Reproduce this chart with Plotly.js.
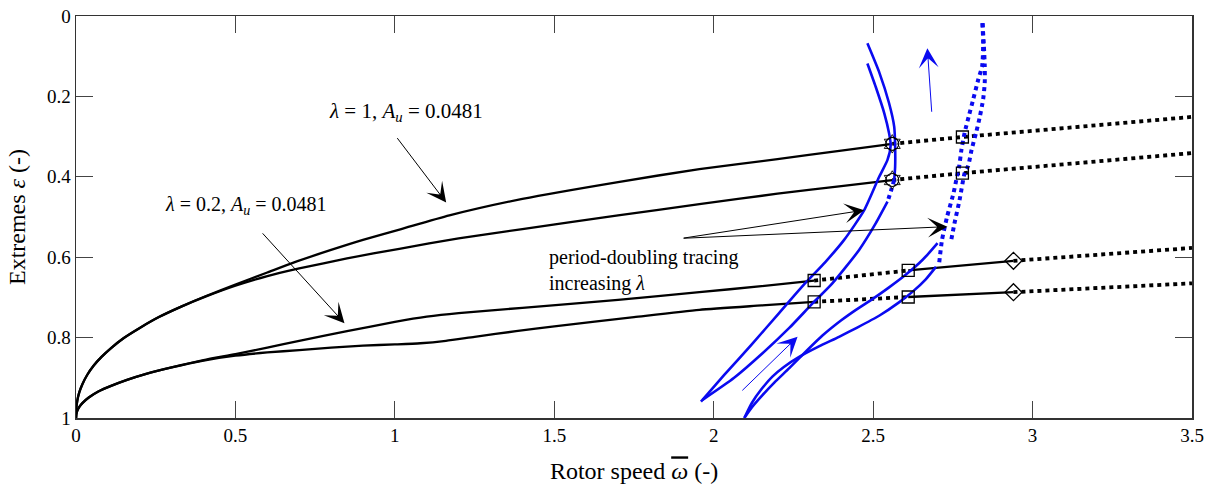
<!DOCTYPE html>
<html><head><meta charset="utf-8">
<script src="https://cdn.plot.ly/plotly-3.0.1.min.js"></script>
<style>html,body{margin:0;padding:0;background:#fff}#chart{width:1215px;height:488px}</style>
</head><body><div id="chart"></div>
<script>
// ---- black branches (lambda = 1) ----
const lam1UpX = [0, 0.001, 0.004, 0.01, 0.02, 0.035, 0.055, 0.08, 0.11, 0.15, 0.2, 0.26, 0.33, 0.41, 0.5, 0.6, 0.68, 0.8, 0.9, 1.02, 1.171, 1.4, 1.7, 1.955, 2.2, 2.4, 2.56];
const lam1UpY = [1, 0.976, 0.957, 0.937, 0.916, 0.893, 0.870, 0.848, 0.826, 0.801, 0.776, 0.749, 0.723, 0.696, 0.668, 0.638, 0.614, 0.582, 0.557, 0.530, 0.496, 0.455, 0.413, 0.381, 0.356, 0.335, 0.318];
const lam1LoX = [0, 0.001, 0.004, 0.01, 0.02, 0.035, 0.055, 0.08, 0.11, 0.15, 0.2, 0.26, 0.33, 0.41, 0.5, 0.6, 0.7, 0.85, 1.014, 1.2, 1.4, 1.7, 1.955, 2.2, 2.4, 2.56];
const lam1LoY = [1, 0.976, 0.957, 0.937, 0.916, 0.893, 0.870, 0.848, 0.826, 0.801, 0.776, 0.749, 0.723, 0.697, 0.671, 0.647, 0.628, 0.603, 0.579, 0.553, 0.530, 0.496, 0.468, 0.442, 0.423, 0.408];
const lam1UpDotX = [2.56, 2.78, 3.5];
const lam1UpDotY = [0.318, 0.301, 0.251];
const lam1LoDotX = [2.56, 2.78, 3.5];
const lam1LoDotY = [0.408, 0.391, 0.341];
// ---- black branches (lambda = 0.2) ----
const lam02UpX = [0, 0.001, 0.004, 0.01, 0.02, 0.04, 0.07, 0.11, 0.16, 0.22, 0.3, 0.4, 0.5, 0.6, 0.7, 0.85, 1.0, 1.1, 1.2, 1.4, 1.7, 1.955, 2.15, 2.315];
const lam02UpY = [1, 0.990, 0.982, 0.973, 0.963, 0.949, 0.934, 0.920, 0.905, 0.890, 0.874, 0.856, 0.841, 0.825, 0.808, 0.784, 0.761, 0.748, 0.739, 0.726, 0.706, 0.687, 0.672, 0.658];
const lam02LoX = [0, 0.001, 0.004, 0.01, 0.02, 0.04, 0.07, 0.11, 0.16, 0.22, 0.3, 0.4, 0.5, 0.6, 0.7, 0.8, 0.9, 1.0, 1.08, 1.16, 1.25, 1.38, 1.5, 1.75, 1.955, 2.15, 2.315];
const lam02LoY = [1, 0.990, 0.982, 0.973, 0.963, 0.949, 0.934, 0.920, 0.905, 0.890, 0.874, 0.857, 0.845, 0.837, 0.831, 0.825, 0.820, 0.817, 0.814, 0.808, 0.798, 0.784, 0.772, 0.749, 0.731, 0.720, 0.711];
const lam02UpDot1X = [2.315, 2.61], lam02UpDot1Y = [0.658, 0.633];
const lam02UpMidX = [2.61, 2.94],   lam02UpMidY = [0.633, 0.609];
const lam02UpDot2X = [2.94, 3.5],   lam02UpDot2Y = [0.609, 0.577];
const lam02LoDot1X = [2.315, 2.61], lam02LoDot1Y = [0.711, 0.699];
const lam02LoMidX = [2.61, 2.94],   lam02LoMidY = [0.699, 0.687];
const lam02LoDot2X = [2.94, 3.5],   lam02LoDot2Y = [0.687, 0.665];
// ---- blue period-doubling traces (left pair) ----
const pdATopX = [2.482, 2.52, 2.55, 2.566, 2.569, 2.569, 2.566];
const pdATopY = [0.068, 0.142, 0.217, 0.275, 0.325, 0.375, 0.408];
const pdADotX = [2.566, 2.556, 2.545];
const pdADotY = [0.408, 0.435, 0.462];
const pdALowX = [2.545, 2.508, 2.456, 2.372, 2.31, 2.237, 2.153, 2.064, 1.965];
const pdALowY = [0.462, 0.516, 0.582, 0.665, 0.715, 0.776, 0.839, 0.90, 0.955];
const pdBX = [2.482, 2.508, 2.535, 2.55, 2.555, 2.545, 2.519, 2.472, 2.409, 2.35, 2.284, 2.205, 2.118, 2.033, 1.96];
const pdBY = [0.118, 0.176, 0.242, 0.292, 0.321, 0.358, 0.40, 0.483, 0.557, 0.612, 0.667, 0.739, 0.818, 0.893, 0.959];
// ---- blue period-doubling traces (right pair) ----
const pdCDotX = [2.843, 2.845, 2.842, 2.830, 2.814, 2.800, 2.787, 2.777, 2.770, 2.765, 2.752, 2.732, 2.716, 2.707];
const pdCDotY = [0.018, 0.07, 0.124, 0.157, 0.207, 0.249, 0.29, 0.332, 0.373, 0.391, 0.441, 0.499, 0.557, 0.615];
const pdDDotX = [2.843, 2.847, 2.850, 2.850, 2.845, 2.835, 2.823, 2.809, 2.798, 2.787, 2.771, 2.755, 2.745];
const pdDDotY = [0.018, 0.07, 0.124, 0.166, 0.207, 0.249, 0.29, 0.332, 0.373, 0.391, 0.458, 0.516, 0.557];
const pdDLowX = [2.702, 2.67, 2.644, 2.60, 2.55, 2.50, 2.446, 2.40, 2.341, 2.29, 2.237, 2.19, 2.153, 2.12, 2.096];
const pdDLowY = [0.565, 0.594, 0.615, 0.645, 0.675, 0.703, 0.731, 0.757, 0.795, 0.834, 0.876, 0.912, 0.943, 0.973, 1.0];
const pdCLowX = [2.697, 2.665, 2.625, 2.58, 2.52, 2.45, 2.393, 2.33, 2.268, 2.22, 2.184, 2.15, 2.12, 2.096];
const pdCLowY = [0.624, 0.655, 0.685, 0.713, 0.745, 0.775, 0.798, 0.822, 0.848, 0.873, 0.897, 0.928, 0.962, 1.0];
// ---- bifurcation markers ----
const pdPointX = [2.56, 2.56], pdPointY = [0.318, 0.408];
const squareX = [2.315, 2.315, 2.61, 2.61, 2.78, 2.78];
const squareY = [0.658, 0.711, 0.633, 0.699, 0.301, 0.391];
const diamondX = [2.94, 2.94], diamondY = [0.609, 0.687];
// ---- axis ticks ----
const xTicks = [0, 0.5, 1, 1.5, 2, 2.5, 3, 3.5];
const xTickText = ['0', '0.5', '1', '1.5', '2', '2.5', '3', '3.5'];
const yTicks = [0, 0.2, 0.4, 0.6, 0.8, 1];
const yTickText = ['0', '0.2', '0.4', '0.6', '0.8', '1'];

const BLUE = '#0a0af0';
const FONT = 'Liberation Serif, Times New Roman, serif';
const solidK = {color: '#000', width: 2.3, shape: 'spline', smoothing: 0.6};
const dotK = {color: '#000', width: 3.8, dash: '4px,4px'};
const solidB = {color: BLUE, width: 2.6, shape: 'spline', smoothing: 0.6};
const dotB = {color: BLUE, width: 4, dash: '4px,4px', shape: 'spline', smoothing: 0.6};
function ln(x, y, line) { return {x: x, y: y, type: 'scatter', mode: 'lines', line: line, hoverinfo: 'skip'}; }

const traces = [
  ln(lam1UpX, lam1UpY, solidK), ln(lam1LoX, lam1LoY, solidK),
  ln(lam1UpDotX, lam1UpDotY, dotK), ln(lam1LoDotX, lam1LoDotY, dotK),
  ln(lam02UpX, lam02UpY, solidK), ln(lam02LoX, lam02LoY, solidK),
  ln(lam02UpDot1X, lam02UpDot1Y, dotK), ln(lam02UpMidX, lam02UpMidY, solidK), ln(lam02UpDot2X, lam02UpDot2Y, dotK),
  ln(lam02LoDot1X, lam02LoDot1Y, dotK), ln(lam02LoMidX, lam02LoMidY, solidK), ln(lam02LoDot2X, lam02LoDot2Y, dotK),
  ln(pdATopX, pdATopY, solidB), ln(pdADotX, pdADotY, dotB), ln(pdALowX, pdALowY, solidB),
  ln(pdBX, pdBY, solidB),
  ln(pdCDotX, pdCDotY, dotB), ln(pdDDotX, pdDDotY, dotB),
  ln(pdDLowX, pdDLowY, solidB), ln(pdCLowX, pdCLowY, solidB),
  {x: pdPointX, y: pdPointY, type: 'scatter', mode: 'markers', hoverinfo: 'skip',
   marker: {symbol: 'circle-open', size: 13, color: '#000', line: {width: 1.2, color: '#000'}}},
  {x: pdPointX, y: pdPointY, type: 'scatter', mode: 'markers', hoverinfo: 'skip',
   marker: {symbol: 'hexagram-open', size: 14, color: '#000', line: {width: 0.9, color: '#000'}}},
  {x: squareX, y: squareY, type: 'scatter', mode: 'markers', hoverinfo: 'skip',
   marker: {symbol: 'square-open', size: 12, color: '#000', line: {width: 1.3, color: '#000'}}},
  {x: diamondX, y: diamondY, type: 'scatter', mode: 'markers', hoverinfo: 'skip',
   marker: {symbol: 'diamond-open', size: 13, color: '#000', line: {width: 1.3, color: '#000'}}}
];

function arrow(tx, ty, sx, sy, color) {
  return {x: tx, y: ty, ax: sx, ay: sy, xref: 'x', yref: 'y', axref: 'x', ayref: 'y',
    text: '', showarrow: true, arrowhead: 3, arrowsize: 3.3, arrowwidth: 1, arrowcolor: color, standoff: 0};
}
function label(x, y, txt, anchor, size) {
  return {x: x, y: y, xref: 'x', yref: 'y', text: txt, showarrow: false, xanchor: anchor || 'center',
    yanchor: 'middle', align: 'left', font: {family: FONT, size: size || 20, color: '#000'}};
}

const layout = {
  width: 1215, height: 488,
  margin: {l: 76, r: 23, t: 16, b: 70},
  paper_bgcolor: '#fff', plot_bgcolor: '#fff',
  showlegend: false,
  font: {family: FONT, color: '#000'},
  xaxis: {range: [0, 3.5], tickvals: xTicks, ticktext: xTickText, ticks: 'inside', ticklen: 17, tickwidth: 1,
    tickcolor: '#444', mirror: 'ticks', showline: true, linecolor: '#333', linewidth: 1.5,
    showgrid: false, zeroline: false, tickfont: {family: FONT, size: 19, color: '#000'},
    title: {text: 'Rotor speed <span style="text-decoration:overline"><i>ω</i></span> (-)', font: {family: FONT, size: 24, color: '#000'}, standoff: 17}},
  yaxis: {range: [1, 0], tickvals: yTicks, ticktext: yTickText, ticks: 'inside', ticklen: 17, tickwidth: 1,
    tickcolor: '#444', mirror: 'ticks', showline: true, linecolor: '#333', linewidth: 1.5,
    showgrid: false, zeroline: false, tickfont: {family: FONT, size: 19, color: '#000'},
    title: {text: 'Extremes <i>ε</i> (-)', font: {family: FONT, size: 24, color: '#000'}, standoff: 14}},
  annotations: [
    label(1.036, 0.238, '<i>λ</i> = 1, <i>A</i><sub><i>u</i></sub> = 0.0481', 'center', 21),
    label(0.533, 0.472, '<i>λ</i> = 0.2, <i>A</i><sub><i>u</i></sub> = 0.0481', 'center', 20),
    label(1.477, 0.632, 'period-doubling tracing<br>increasing <i>λ</i>', 'left', 20),
    arrow(1.161, 0.464, 1.004, 0.300, '#000'),
    arrow(0.842, 0.764, 0.581, 0.537, '#000'),
    arrow(2.472, 0.483, 1.901, 0.553, '#000'),
    arrow(2.733, 0.524, 1.901, 0.553, '#000'),
    arrow(2.263, 0.798, 2.085, 0.935, BLUE),
    arrow(2.670, 0.080, 2.684, 0.242, BLUE)
  ]
};
Plotly.newPlot('chart', traces, layout, {staticPlot: true, displayModeBar: false});
</script></body></html>
